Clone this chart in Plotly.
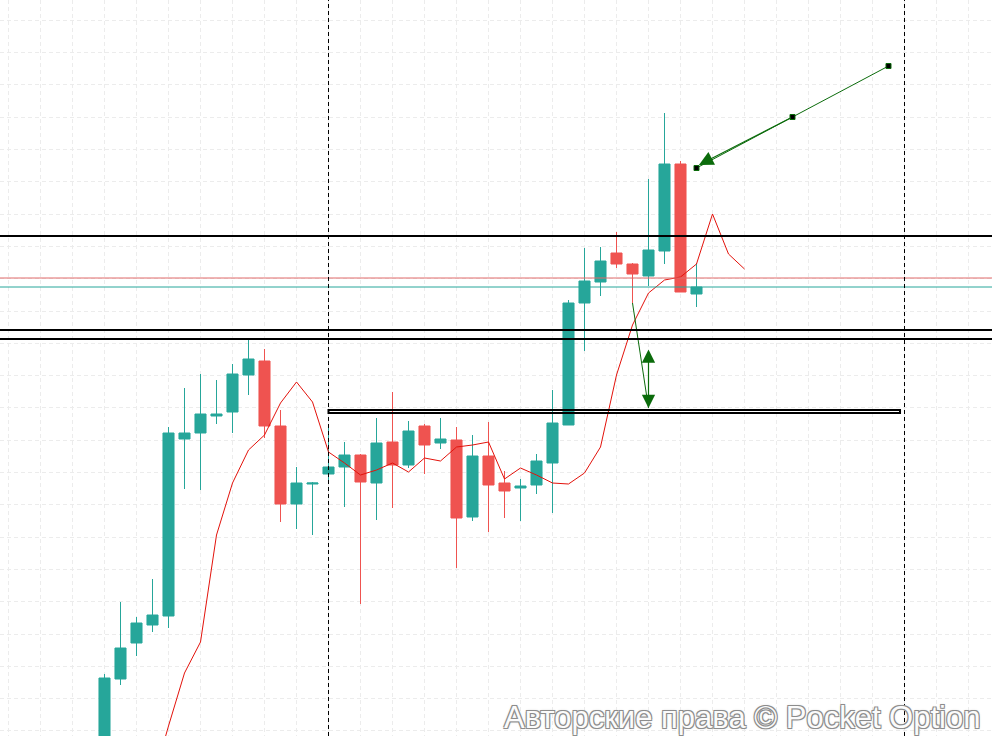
import plotly.graph_objects as go

# candles, one per bar index (prices)
opens = [1.07840, 1.07921, 1.07957, 1.07975, 1.07984, 1.08161, 1.08167, 1.08184, 1.08188, 1.08225,
         1.08239, 1.08174, 1.08096, 1.08116, 1.08126, 1.08133, 1.08145, 1.08117, 1.08158, 1.08135,
         1.08174, 1.08157, 1.08160, 1.08083, 1.08144, 1.08117, 1.08112, 1.08115, 1.08137, 1.08175,
         1.08297, 1.08318, 1.08347, 1.08336, 1.08324, 1.08349, 1.08436, 1.08306]
highs = [1.07926, 1.07998, 1.07983, 1.08021, 1.08173, 1.08212, 1.08226, 1.08220, 1.08236, 1.08261,
         1.08251, 1.08190, 1.08133, 1.08118, 1.08175, 1.08158, 1.08146, 1.08182, 1.08208, 1.08179,
         1.08176, 1.08182, 1.08173, 1.08165, 1.08178, 1.08129, 1.08121, 1.08146, 1.08210, 1.08300,
         1.08352, 1.08353, 1.08368, 1.08337, 1.08421, 1.08487, 1.08439, 1.08337]
lows = [1.07830, 1.07915, 1.07944, 1.07968, 1.07972, 1.08111, 1.08110, 1.08176, 1.08167, 1.08205,
        1.08162, 1.08078, 1.08071, 1.08065, 1.08120, 1.08093, 1.07996, 1.08080, 1.08092, 1.08132,
        1.08126, 1.08151, 1.08032, 1.08079, 1.08068, 1.08082, 1.08079, 1.08106, 1.08087, 1.08175,
        1.08249, 1.08304, 1.08332, 1.08297, 1.08314, 1.08336, 1.08308, 1.08293]
closes = [1.07922, 1.07952, 1.07977, 1.07985, 1.08167, 1.08167, 1.08186, 1.08186, 1.08226, 1.08241,
          1.08174, 1.08096, 1.08117, 1.08117, 1.08133, 1.08145, 1.08118, 1.08157, 1.08135, 1.08169,
          1.08155, 1.08161, 1.08082, 1.08144, 1.08115, 1.08109, 1.08114, 1.08139, 1.08177, 1.08297,
          1.08319, 1.08339, 1.08336, 1.08326, 1.08350, 1.08436, 1.08308, 1.08313]

# moving average (shifted forward), starts at bar 3
ma_first_bar = 3
ma_values = [1.07818, 1.07874, 1.07927, 1.07958, 1.08065, 1.08117, 1.08150, 1.08165, 1.08197, 1.08218,
             1.08198, 1.08148, 1.08137, 1.08125, 1.08130, 1.08137, 1.08128, 1.08142, 1.08139, 1.08153,
             1.08155, 1.08158, 1.08121, 1.08132, 1.08125, 1.08117, 1.08116, 1.08127, 1.08153, 1.08225,
             1.08275, 1.08307, 1.08320, 1.08323, 1.08336, 1.08386, 1.08346, 1.08331]

# horizontal levels
black_levels = [1.08364, 1.08270, 1.08261]
red_level = 1.08322
zone_bars = [14, 49.72]
zone_prices = [1.08190, 1.08187]
session_bars = [14, 50]

# drawings
arrow_bars = [49, 43, 37]
arrow_prices = [1.08534, 1.08483, 1.08432]
slope_bars = [33, 34]
slope_prices = [1.08297, 1.08192]
measure_bar = 34
measure_prices = [1.08252, 1.08192]

UP = "#26a69a"
DOWN = "#ef5350"
GREEN = "#0b6b0b"

bars = list(range(len(opens)))

fig = go.Figure()

fig.add_trace(
    go.Candlestick(
        x=bars,
        open=opens,
        high=highs,
        low=lows,
        close=closes,
        increasing={"line": {"color": UP, "width": 1}, "fillcolor": UP},
        decreasing={"line": {"color": DOWN, "width": 1}, "fillcolor": DOWN},
        showlegend=False,
        hoverinfo="skip",
    )
)

fig.add_trace(
    go.Scatter(
        x=list(range(ma_first_bar, ma_first_bar + len(ma_values))),
        y=ma_values,
        mode="lines",
        line={"color": "#e3120b", "width": 1},
        showlegend=False,
        hoverinfo="skip",
    )
)

# levels
for level in black_levels:
    fig.add_shape(type="line", xref="paper", x0=0, x1=1, y0=level, y1=level,
                  line={"color": "black", "width": 2})
fig.add_shape(type="line", xref="paper", x0=0, x1=1, y0=red_level, y1=red_level,
              line={"color": "#e06a6a", "width": 1})
fig.add_shape(type="line", xref="paper", x0=0, x1=1, y0=closes[-1], y1=closes[-1],
              line={"color": UP, "width": 1})
fig.add_shape(type="rect", x0=zone_bars[0], x1=zone_bars[1], y0=zone_prices[1], y1=zone_prices[0],
              line={"color": "black", "width": 2}, fillcolor="rgba(0,0,0,0)")
for bar in session_bars:
    fig.add_shape(type="line", yref="paper", x0=bar, x1=bar, y0=0, y1=1,
                  line={"color": "black", "width": 1, "dash": "4px,3px"})

# trend arrow
fig.add_trace(
    go.Scatter(
        x=arrow_bars,
        y=arrow_prices,
        mode="lines+markers",
        line={"color": GREEN, "width": 1},
        marker={"symbol": "square", "size": 5, "color": "black", "line": {"color": GREEN, "width": 1}},
        showlegend=False,
        hoverinfo="skip",
    )
)
fig.add_annotation(x=arrow_bars[-1] + 0.15, y=arrow_prices[-1] + 0.00003,
                   ax=arrow_bars[-2], ay=arrow_prices[-2], xref="x", yref="y", axref="x", ayref="y",
                   text="", showarrow=True, arrowhead=2, arrowsize=2.4, arrowwidth=1.2, arrowcolor=GREEN)

fig.add_trace(
    go.Scatter(
        x=slope_bars,
        y=slope_prices,
        mode="lines",
        line={"color": GREEN, "width": 1},
        showlegend=False,
        hoverinfo="skip",
    )
)
fig.add_annotation(x=measure_bar, y=measure_prices[1], ax=measure_bar, ay=measure_prices[0],
                   xref="x", yref="y", axref="x", ayref="y", text="", showarrow=True,
                   arrowhead=2, startarrowhead=2, arrowside="end+start", arrowsize=2.2,
                   startarrowsize=2.2, arrowwidth=1.2, arrowcolor=GREEN)

fig.add_annotation(
    text="Авторские права © Pocket Option",
    xref="paper", yref="paper", x=0.99, y=0, xanchor="right", yanchor="bottom", yshift=-1,
    showarrow=False,
    font={"family": "Liberation Sans, Arial, sans-serif", "size": 31, "color": "#fbfbfb",
          "shadow": "-1px -1px 0 #8c8c8c, 1px -1px 0 #8c8c8c, -1px 1px 0 #8c8c8c, 1px 1px 0 #8c8c8c, 0 0 3px #bbbbbb"},
)

fig.update_layout(
    width=992,
    height=736,
    margin={"l": 0, "r": 0, "t": 0, "b": 0},
    paper_bgcolor="white",
    plot_bgcolor="white",
    showlegend=False,
    boxgap=0.31,
    boxgroupgap=0,
)
fig.update_xaxes(
    range=[-104.5 / 16, 887.5 / 16],
    rangeslider={"visible": False},
    showticklabels=False,
    zeroline=False,
    showgrid=True,
    gridcolor="#ececec",
    griddash="4px,3px",
    tick0=0,
    dtick=2,
)
fig.update_yaxes(
    range=[1.07864, 1.08600],
    showticklabels=False,
    zeroline=False,
    showgrid=True,
    gridcolor="#ececec",
    griddash="4px,3px",
    tick0=1.085797,
    dtick=0.000323,
)

fig.write_html("out.html", config={"displayModeBar": False},
               post_script="document.body.style.margin='0';")
